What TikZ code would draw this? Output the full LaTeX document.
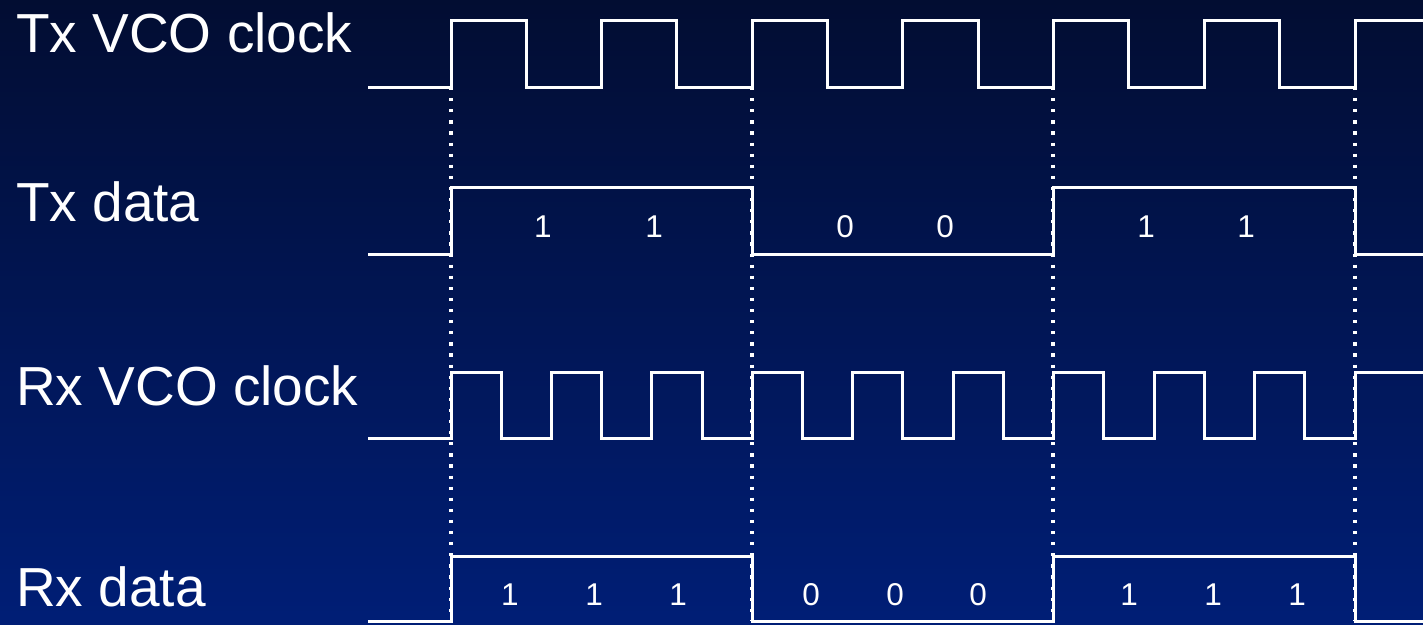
\documentclass[tikz,border=0pt]{standalone}
\usepackage{fontspec}
\setmainfont{Liberation Sans}
\usepackage{xcolor}
\definecolor{bgtop}{RGB}{2,13,50}
\definecolor{bgbot}{RGB}{0,30,118}
\usetikzlibrary{calc}

\begin{document}
\begin{tikzpicture}[x=1pt, y=-1pt,
  wave/.style={draw=white, line width=3pt},
  sync/.style={draw=white, line width=3.4pt, dash pattern=on 3.2pt off 7.9pt},
  lbl/.style={font=\fontsize{55}{60}\selectfont, text=white, anchor=base west, inner sep=0pt},
  bitval/.style={font=\fontsize{31.5}{36}\selectfont, text=white, anchor=base, inner sep=0pt}
]
% Background
\shade[top color=bgtop, bottom color=bgbot] (0,0) rectangle (1423,624);
\useasboundingbox (0,0) rectangle (1423,624);

% Signal names
\node[lbl] (txclk) at (16,52) {Tx VCO clock};
\node[lbl] (txdat) at (16,221) {Tx data};
\node[lbl] (rxclk) at (16,405) {Rx VCO clock};
\node[lbl] (rxdat) at (16,606) {Rx data};

% Bit boundaries
\foreach \x [count=\k] in {451,752,1053,1355}
  \draw[sync] (\x,87) -- (\x,621);

% Tx VCO clock (2 cycles per bit)
\draw[wave] (368,87) foreach \i in {0,...,5} {
  -- ({451+\i*150.6},87) -- ++(0,-67) -- ++(75.3,0) -- ++(0,67) }
  -- (1355,87) -- (1355,20) -- (1423,20);

% Tx data
\draw[wave] (368,254) -- (451,254) -- (451,187) -- (752,187) -- (752,254)
  -- (1053,254) -- (1053,187) -- (1355,187) -- (1355,254) -- (1423,254);
\foreach \x/\v [count=\k] in {543/1,654/1,845/0,945/0,1146/1,1246/1}
  \node[bitval] (tb\k) at (\x,237) {\v};

% Rx VCO clock (3 cycles per bit)
\draw[wave] (368,438) foreach \i in {0,...,8} {
  -- ({451+\i*100.44},438) -- ++(0,-66) -- ++(50.22,0) -- ++(0,66) }
  -- (1355,438) -- (1355,372) -- (1423,372);

% Rx data
\draw[wave] (368,621) -- (451,621) -- (451,556) -- (752,556) -- (752,621)
  -- (1053,621) -- (1053,556) -- (1355,556) -- (1355,621) -- (1423,621);
\foreach \x/\v [count=\k] in {510/1,594/1,678/1,811/0,895/0,978/0,1129/1,1213/1,1297/1}
  \node[bitval] (rb\k) at (\x,605) {\v};
\end{tikzpicture}
\end{document}
